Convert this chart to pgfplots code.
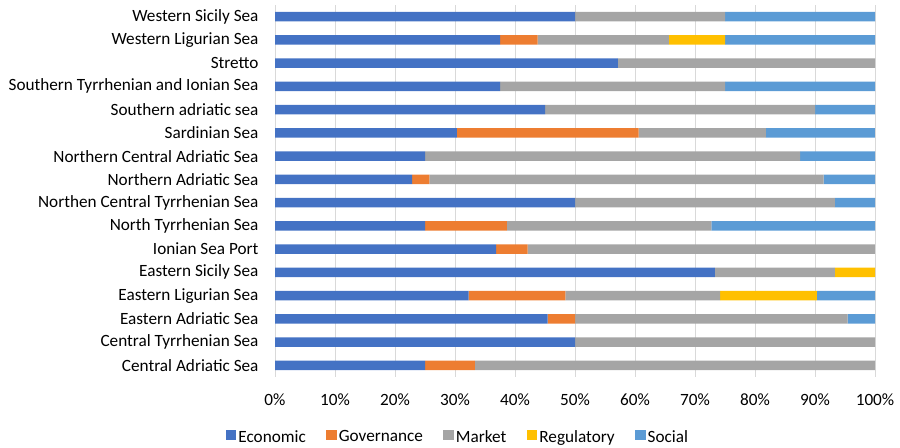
\documentclass[border=0pt]{standalone}
\usepackage{pgfplots}
\pgfplotsset{compat=1.18}
\usepackage{pgfplotstable}
\usepackage{fontspec}
\setmainfont{Carlito}
\definecolor{cEco}{HTML}{4472C4}
\definecolor{cGov}{HTML}{ED7D31}
\definecolor{cMar}{HTML}{A5A5A5}
\definecolor{cReg}{HTML}{FFC000}
\definecolor{cSoc}{HTML}{5B9BD5}
\definecolor{cGrid}{HTML}{D9D9D9}
\pgfplotstableread{
idx Economic Governance Market Regulatory Social
0  25    8.33  66.67 0     0
1  50    0     50    0     0
2  45.45 4.55  45.45 0     4.55
3  32.26 16.13 25.81 16.13 9.68
4  73.33 0     20    6.67  0
5  36.84 5.26  57.89 0     0
6  25    13.64 34.09 0     27.27
7  50    0     43.33 0     6.67
8  22.86 2.86  65.71 0     8.57
9  25    0     62.5  0     12.5
10 30.30 30.30 21.21 0     18.18
11 45    0     45    0     10
12 37.5  0     37.5  0     25
13 57.14 0     42.86 0     0
14 37.5  6.25  21.88 9.38  25
15 50    0     25    0     25
}\datatable
\begin{document}
\begin{tikzpicture}
\useasboundingbox (0,0) rectangle (900bp,448bp);
\begin{axis}[
  at={(275bp,71bp)}, anchor=south west,
  scale only axis, width=600bp, height=372bp,
  xbar stacked, bar width=9.5bp,
  xmin=0, xmax=100, ymin=-0.5, ymax=15.5,
  xtick={0,10,...,100},
  xticklabel={\pgfmathprintnumber{\tick}\%},
  /pgf/number format/assume math mode=true,
  ytick={0,...,15},
  yticklabels={Central Adriatic Sea,Central Tyrrhenian Sea,Eastern Adriatic Sea,Eastern Ligurian Sea,Eastern Sicily Sea,Ionian Sea Port,North Tyrrhenian Sea,Northen Central Tyrrhenian Sea,Northern Adriatic Sea,Northern Central Adriatic Sea,Sardinian Sea,Southern adriatic sea,Southern Tyrrhenian and Ionian Sea,Stretto,Western Ligurian Sea,Western Sicily Sea},
  tick label style={font=\fontsize{17.2bp}{20bp}\selectfont, text=black},
  yticklabel style={xshift=-13bp},
  xticklabel style={yshift=-13bp},
  major tick length=0pt,
  axis line style={draw=none},
  xmajorgrids, grid style={cGrid, line width=1bp},
  legend columns=5,
  legend style={at={(axis description cs:0.305,-0.161)}, anchor=center, draw=none, fill=none,
    font=\fontsize{17.2bp}{20bp}\selectfont,
    /tikz/every even column/.append style={column sep=18.5bp}},
  legend image code/.code={\fill[#1] (0bp,-3.5bp) rectangle (10.5bp,7bp);},
]
\addplot[fill=cEco, draw=none] table[x=Economic, y=idx] {\datatable};
\addplot[fill=cGov, draw=none] table[x=Governance, y=idx] {\datatable};
\addplot[fill=cMar, draw=none] table[x=Market, y=idx] {\datatable};
\addplot[fill=cReg, draw=none] table[x=Regulatory, y=idx] {\datatable};
\addplot[fill=cSoc, draw=none] table[x=Social, y=idx] {\datatable};
\legend{Economic,Governance,Market,Regulatory,Social}
\end{axis}
\end{tikzpicture}
\end{document}
